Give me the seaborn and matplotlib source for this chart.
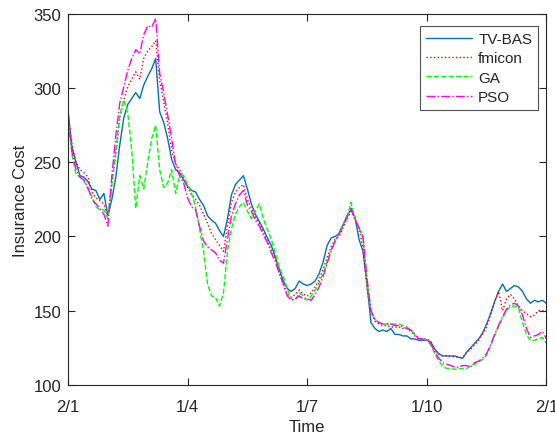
import numpy as np
import pandas as pd
import matplotlib
matplotlib.use("Agg")
import matplotlib.pyplot as plt
import seaborn as sns

# trading-day index, sampled every 2 days
day = list(range(0, 241, 2))

tv_bas = [285, 260, 250, 241, 240, 237, 232, 231, 225, 229,
          214, 225, 240, 262, 280, 289, 293, 297, 293, 302,
          308, 313, 320, 284, 277, 266, 252, 245, 243, 238,
          234, 231, 230, 225, 221, 214, 211, 209, 204, 200,
          212, 228, 235, 238, 241, 232, 222, 215, 210, 205,
          199, 194, 186, 178, 170, 165, 163, 165, 170, 168,
          167, 168, 170, 175, 183, 194, 199, 200, 202, 208,
          214, 218, 213, 198, 190, 168, 142, 138, 136, 137,
          136, 138, 134, 134, 133, 133, 131, 131, 130, 130,
          130, 129, 124, 121, 119.5, 119.5, 119.5, 119.5, 118.5, 118,
          122, 125, 128, 131, 135, 141, 148, 156, 163, 168,
          163, 165, 167, 166, 163, 158, 155, 157, 156, 157,
          155]
fmicon = [283, 262, 250, 245, 243, 240, 230, 226, 224, 222,
          214, 235, 255, 280, 292, 301, 306, 311, 306, 320,
          325, 328, 332, 305, 291, 276, 258, 249, 245, 240,
          233, 228, 225, 221, 215, 209, 202, 198, 194, 190,
          207, 223, 230, 233, 235, 225, 219, 213, 209, 203,
          197, 191, 185, 176, 168, 161, 159, 161, 164, 161,
          160, 162, 166, 171, 178, 186, 193, 198, 200, 206,
          212, 217, 212, 205, 192, 165, 149, 143, 141, 140,
          140, 139, 139, 139, 138, 138, 136, 133, 131, 131,
          131, 129, 123, 121, 119.5, 119.5, 119, 119, 118.5, 118.5,
          122, 124, 127, 130, 134, 139, 147, 156, 163, 150,
          158, 161, 158, 153, 150, 148, 146, 147, 150, 150,
          150]
ga = [280, 255, 242, 240, 238, 232, 227, 220, 218, 218,
      212, 235, 258, 282, 292, 283, 258, 219, 241, 232,
      250, 266, 275, 245, 233, 236, 245, 229, 241, 241,
      235, 229, 220, 205, 190, 168, 160, 159, 153, 162,
      190, 205, 215, 220, 223, 217, 212, 217, 222, 212,
      205, 198, 189, 179, 173, 165, 158, 157, 162, 160,
      157, 160, 164, 169, 175, 183, 191, 197, 203, 208,
      213, 223, 212, 206, 199, 170, 150, 144, 142, 141,
      141, 141, 141, 141, 140, 139, 137, 134, 131, 131,
      130, 127, 121, 116, 113, 111, 111, 110.5, 111, 111,
      111, 113, 114, 115.5, 117, 120, 126, 133, 139, 145,
      150, 153, 153, 152, 142, 134, 130, 130, 131, 132,
      128]
pso = [280, 257, 245, 240, 238, 233, 225, 222, 219, 215,
       207, 241, 268, 290, 301, 312, 320, 326, 323, 336,
       342, 341, 347, 310, 297, 282, 266, 248, 241, 236,
       226, 220, 218, 207, 197, 193, 191, 189, 184, 182,
       198, 214, 222, 228, 231, 221, 217, 211, 207, 201,
       196, 189, 183, 175, 168, 160, 157, 158, 160, 158,
       158, 157, 161, 166, 173, 182, 190, 197, 202, 207,
       213, 219, 211, 206, 200, 172, 150, 144, 142, 141,
       141, 141, 140, 140, 139, 138, 137, 134, 131, 131,
       130, 128, 122, 118, 115, 114, 113, 112, 112, 113,
       113, 112, 115, 116, 118, 121, 127, 134, 140, 146,
       151, 154, 155, 153, 147, 138, 132, 133, 134, 136,
       131]

tick_pos = [0, 60, 120, 180, 240]
tick_labels = ["2/1", "1/4", "1/7", "1/10", "2/1"]

series = {"TV-BAS": tv_bas, "fmicon": fmicon, "GA": ga, "PSO": pso}
styles = {
    "TV-BAS": ("#0072BD", "-"),
    "fmicon": ("#FF0000", ":"),
    "GA": ("#00FF00", "--"),
    "PSO": ("#FF00FF", "-."),
}

sns.set_style("white")
plt.rcParams["font.family"] = ["Liberation Sans", "DejaVu Sans"]

fig = plt.figure(figsize=(5.55, 4.39), dpi=100)
ax = fig.add_axes([0.1225, 0.121, 0.862, 0.845])

for name, vals in series.items():
    df = pd.DataFrame({"day": day, "cost": vals})
    color, ls = styles[name]
    sns.lineplot(data=df, x="day", y="cost", ax=ax, color=color, linestyle=ls,
                 linewidth=1.0, label=name)

ax.set_xlim(0, 240)
ax.set_ylim(100, 350)
ax.set_xticks(tick_pos)
ax.set_xticklabels(tick_labels)
ax.set_yticks([100, 150, 200, 250, 300, 350])
ax.set_xlabel("Time", fontsize=12, color="#262626", labelpad=4)
ax.set_ylabel("Insurance Cost", fontsize=12, color="#262626", labelpad=4)
ax.tick_params(direction="in", length=5, width=0.8, colors="#262626",
               labelsize=12, top=True, right=True, bottom=True, left=True, pad=5)
ax.tick_params(axis="x", pad=10)
for sp in ax.spines.values():
    sp.set_color("#262626")
    sp.set_linewidth(0.8)

leg = ax.legend(loc="upper right", bbox_to_anchor=(0.983, 0.968), borderaxespad=0,
                fontsize=11, frameon=True, fancybox=False, handlelength=3.0,
                labelspacing=0.35, borderpad=0.4, handletextpad=0.4)
leg.get_frame().set_edgecolor("#262626")
leg.get_frame().set_linewidth(0.8)

fig.savefig("out.png", dpi=100)
